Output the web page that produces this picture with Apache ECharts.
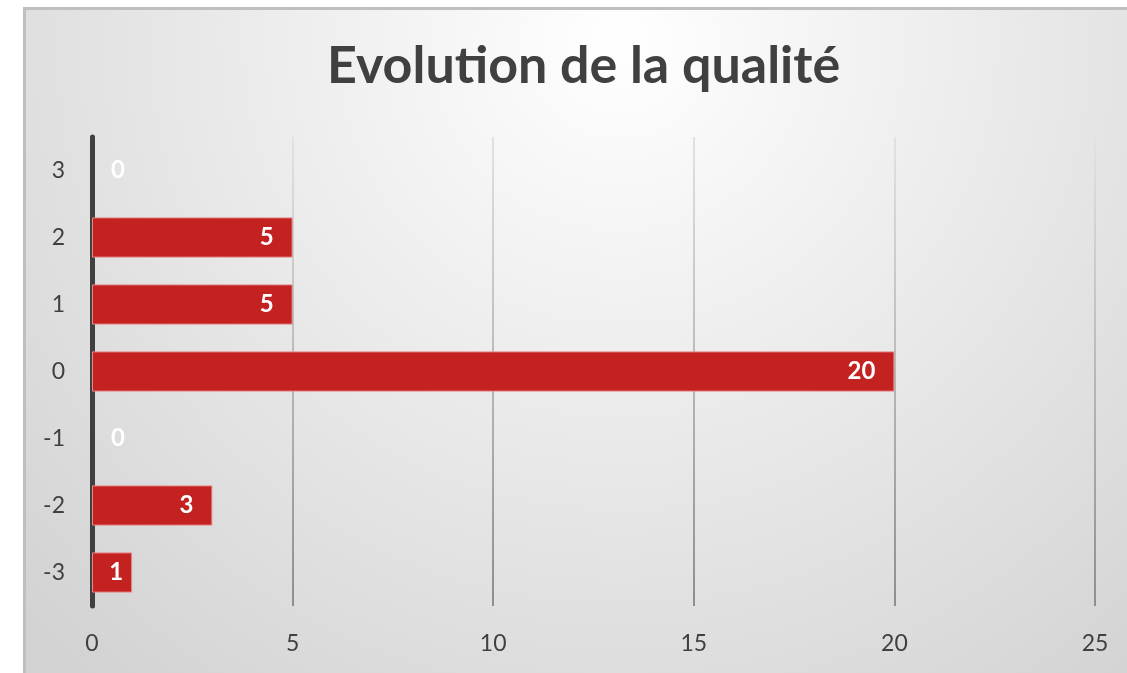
<!DOCTYPE html>
<html>
<head>
<meta charset="utf-8">
<script src="https://cdn.jsdelivr.net/npm/echarts@6/dist/echarts.min.js"></script>
<style>
  html, body { margin: 0; padding: 0; background: #fff; }
  #chart { width: 1127px; height: 673px; }
</style>
</head>
<body>
<div id="chart"></div>
<script>
// niveaux de qualité (de bas en haut) et nombre de cas
const categories = ['-3', '-2', '-1', '0', '1', '2', '3']
const counts = [1, 3, 0, 20, 5, 5, 0]
const xTicks = [0, 5, 10, 15, 20, 25]

const chart = echarts.init(document.getElementById('chart'))

// barres à zéro : pas de contour, étiquette à droite de l'axe
// barres trop courtes : étiquette plus près du bout
function barItem(v) {
  if (v === 0) {
    return { value: v, itemStyle: { borderWidth: 0 }, label: { position: 'right', distance: 19 } }
  }
  if (v < 2) {
    return { value: v, label: { distance: 9 } }
  }
  return v
}
const barData = counts.map(barItem)

const option = {
  animation: false,
  graphic: [
    {
      type: 'rect',
      z: -10,
      shape: { x: 24.5, y: 8.5, width: 1140, height: 700 },
      style: {
        fill: new echarts.graphic.RadialGradient(620, 40, 820, [
          { offset: 0, color: '#ffffff' },
          { offset: 1, color: '#d3d3d3' }
        ], true),
        stroke: '#bfbfbf',
        lineWidth: 3
      }
    }
  ],
  title: {
    text: 'Evolution de la qualité',
    left: 322,
    top: 35,
    textStyle: {
      fontFamily: 'Lato',
      fontSize: 52,
      fontWeight: 'bold',
      color: '#404040'
    }
  },
  grid: {
    left: 92,
    right: 32,
    top: 137,
    bottom: 67
  },
  xAxis: {
    type: 'value',
    min: xTicks[0],
    max: xTicks[xTicks.length - 1],
    interval: 5,
    axisLine: { show: false },
    axisTick: { show: false },
    axisLabel: {
      margin: 26,
      fontFamily: 'Lato',
      fontSize: 23,
      color: '#404040'
    },
    splitLine: {
      lineStyle: {
        width: 2,
        color: new echarts.graphic.LinearGradient(0, 137, 0, 606, [
          { offset: 0, color: '#e2e2e2' },
          { offset: 1, color: '#8e8e8e' }
        ], true)
      }
    }
  },
  yAxis: {
    type: 'category',
    data: categories,
    axisLine: { lineStyle: { color: '#404040', width: 5 } },
    axisTick: { show: false },
    axisLabel: {
      margin: 27,
      fontFamily: 'Lato',
      fontSize: 23,
      color: '#404040'
    }
  },
  series: [
    {
      type: 'bar',
      data: barData,
      barCategoryGap: '40%',
      itemStyle: {
        color: '#c42121',
        borderColor: '#e58a8a',
        borderWidth: 1
      },
      label: {
        show: true,
        position: 'insideRight',
        distance: 19,
        color: '#ffffff',
        fontFamily: 'Lato',
        fontWeight: 'bold',
        fontSize: 24
      }
    }
  ]
}

chart.setOption(option)
</script>
</body>
</html>
